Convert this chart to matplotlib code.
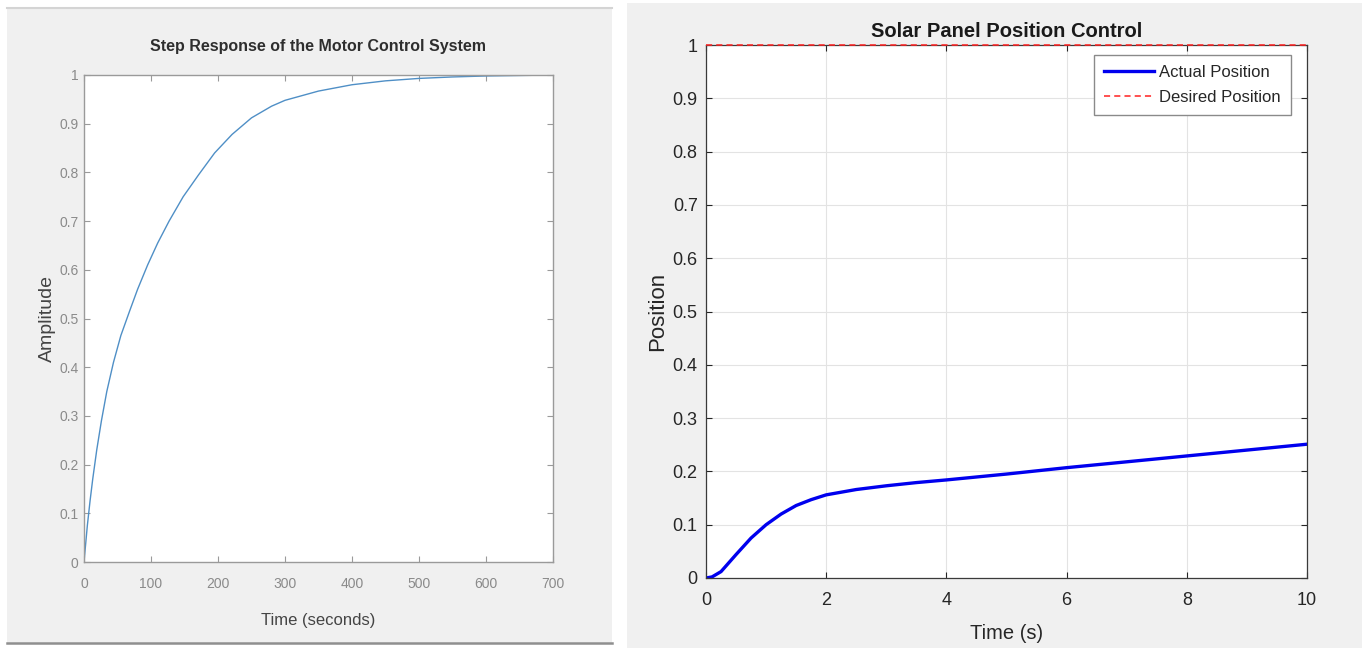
import matplotlib
matplotlib.use("Agg")
import matplotlib.pyplot as plt
from matplotlib.patches import Rectangle
from matplotlib.lines import Line2D

# motor step response (first panel)
motor_t = [0, 2, 5, 9, 13, 19, 26, 34, 44, 55, 68, 80, 95, 110, 127, 148, 171,
           195, 221, 250, 280, 300, 350, 400, 450, 500, 550, 600, 650, 700]
motor_y = [0, 0.03, 0.075, 0.125, 0.17, 0.23, 0.29, 0.35, 0.41, 0.465, 0.515,
           0.56, 0.61, 0.655, 0.70, 0.75, 0.795, 0.84, 0.878, 0.912, 0.936,
           0.948, 0.967, 0.980, 0.988, 0.993, 0.996, 0.998, 0.999, 1.0]

# solar panel position (second panel)
panel_t = [0, 0.1, 0.25, 0.5, 0.75, 1.0, 1.25, 1.5, 1.75, 2.0, 2.5, 3.0, 3.5,
           4, 5, 6, 7, 8, 9, 10]
panel_y = [0, 0.002, 0.012, 0.044, 0.075, 0.100, 0.120, 0.136, 0.147, 0.156,
           0.166, 0.173, 0.179, 0.184, 0.195, 0.207, 0.218, 0.229, 0.240, 0.251]
desired_t = [0, 10]
desired_y = [1, 1]

y_ticks = [i / 10 for i in range(11)]
y_labels = ["0", "0.1", "0.2", "0.3", "0.4", "0.5", "0.6", "0.7", "0.8", "0.9", "1"]

plt.rcParams["font.family"] = ["Liberation Sans", "DejaVu Sans"]

W, H = 1362, 648
fig = plt.figure(figsize=(W / 100, H / 100), dpi=100, facecolor="white")


def box(x0, y0, x1, y1, color):
    # pixel box measured from top-left
    fig.add_artist(Rectangle((x0 / W, 1 - y1 / H), (x1 - x0) / W, (y1 - y0) / H,
                             transform=fig.transFigure, facecolor=color,
                             edgecolor="none", zorder=0))


def hline(x0, x1, y, color, lw):
    fig.add_artist(Line2D([x0 / W, x1 / W], [1 - y / H, 1 - y / H],
                          transform=fig.transFigure, color=color, lw=lw, zorder=1))


# grey window backgrounds
box(7, 8, 612, 643, "#f0f0f0")
hline(7, 612, 8, "#d4d4d4", 1.5)
hline(7, 612, 643, "#8f8f8f", 1.8)
box(627, 3, 1362, 648, "#f0f0f0")

# ---- left: step response ----
ax1 = fig.add_axes([84 / W, 1 - 562 / H, 469 / W, 487 / H])
ax1.plot(motor_t, motor_y, color="#4f8fc6", lw=1.0)
ax1.set_xlim(0, 700)
ax1.set_ylim(0, 1)
ax1.set_xticks(range(0, 701, 100))
ax1.set_yticks(y_ticks)
ax1.set_yticklabels(y_labels)
for s in ax1.spines.values():
    s.set_color("#9a9a9a")
    s.set_linewidth(1.0)
ax1.tick_params(direction="in", length=4, color="#9a9a9a", labelcolor="#8a8a8a",
                labelsize=10, top=True, right=True)
ax1.tick_params(axis="x", pad=11)
ax1.tick_params(axis="y", pad=4)
ax1.set_title("Step Response of the Motor Control System", fontsize=11.5,
              fontweight="bold", color="#2e2e2e", pad=17)
ax1.set_xlabel("Time (seconds)", fontsize=12, color="#444444", labelpad=16)
ax1.set_ylabel("Amplitude", fontsize=14, color="#444444", labelpad=2)

# ---- right: solar panel ----
ax2 = fig.add_axes([706 / W, 1 - 578 / H, 601 / W, 533 / H])
ax2.plot(panel_t, panel_y, color="#0000ee", lw=2.4, label="Actual Position")
ax2.plot(desired_t, desired_y, color="#ff2020", lw=1.1, ls=(0, (4, 2.7)),
         label="Desired Position", clip_on=False, zorder=5)
ax2.set_xlim(0, 10)
ax2.set_ylim(0, 1)
ax2.set_xticks(range(0, 11, 2))
ax2.set_yticks(y_ticks)
ax2.set_yticklabels(y_labels)
ax2.grid(True, color="#e3e3e3", lw=0.8)
ax2.set_axisbelow(True)
for s in ax2.spines.values():
    s.set_color("#3a3a3a")
    s.set_linewidth(0.9)
ax2.tick_params(direction="in", length=4, color="#262626", labelcolor="#262626",
                labelsize=13, top=True, right=True)
ax2.tick_params(axis="x", pad=10)
ax2.tick_params(axis="y", pad=6)
ax2.set_title("Solar Panel Position Control", fontsize=14.5, fontweight="bold",
              color="#1a1a1a", pad=6)
ax2.set_xlabel("Time (s)", fontsize=14.5, color="#262626", labelpad=11)
ax2.set_ylabel("Position", fontsize=16, color="#262626", labelpad=3)
leg = ax2.legend(loc="upper right", fontsize=12, frameon=True, fancybox=False,
                 edgecolor="#8a8a8a", framealpha=1, handlelength=3.0,
                 labelspacing=0.6, borderpad=0.6, handletextpad=0.3,
                 borderaxespad=0, bbox_to_anchor=(0.9734, 0.981))
leg.get_frame().set_linewidth(1.0)
for t in leg.get_texts():
    t.set_color("#262626")

fig.savefig("out.png", dpi=100, facecolor="white")
